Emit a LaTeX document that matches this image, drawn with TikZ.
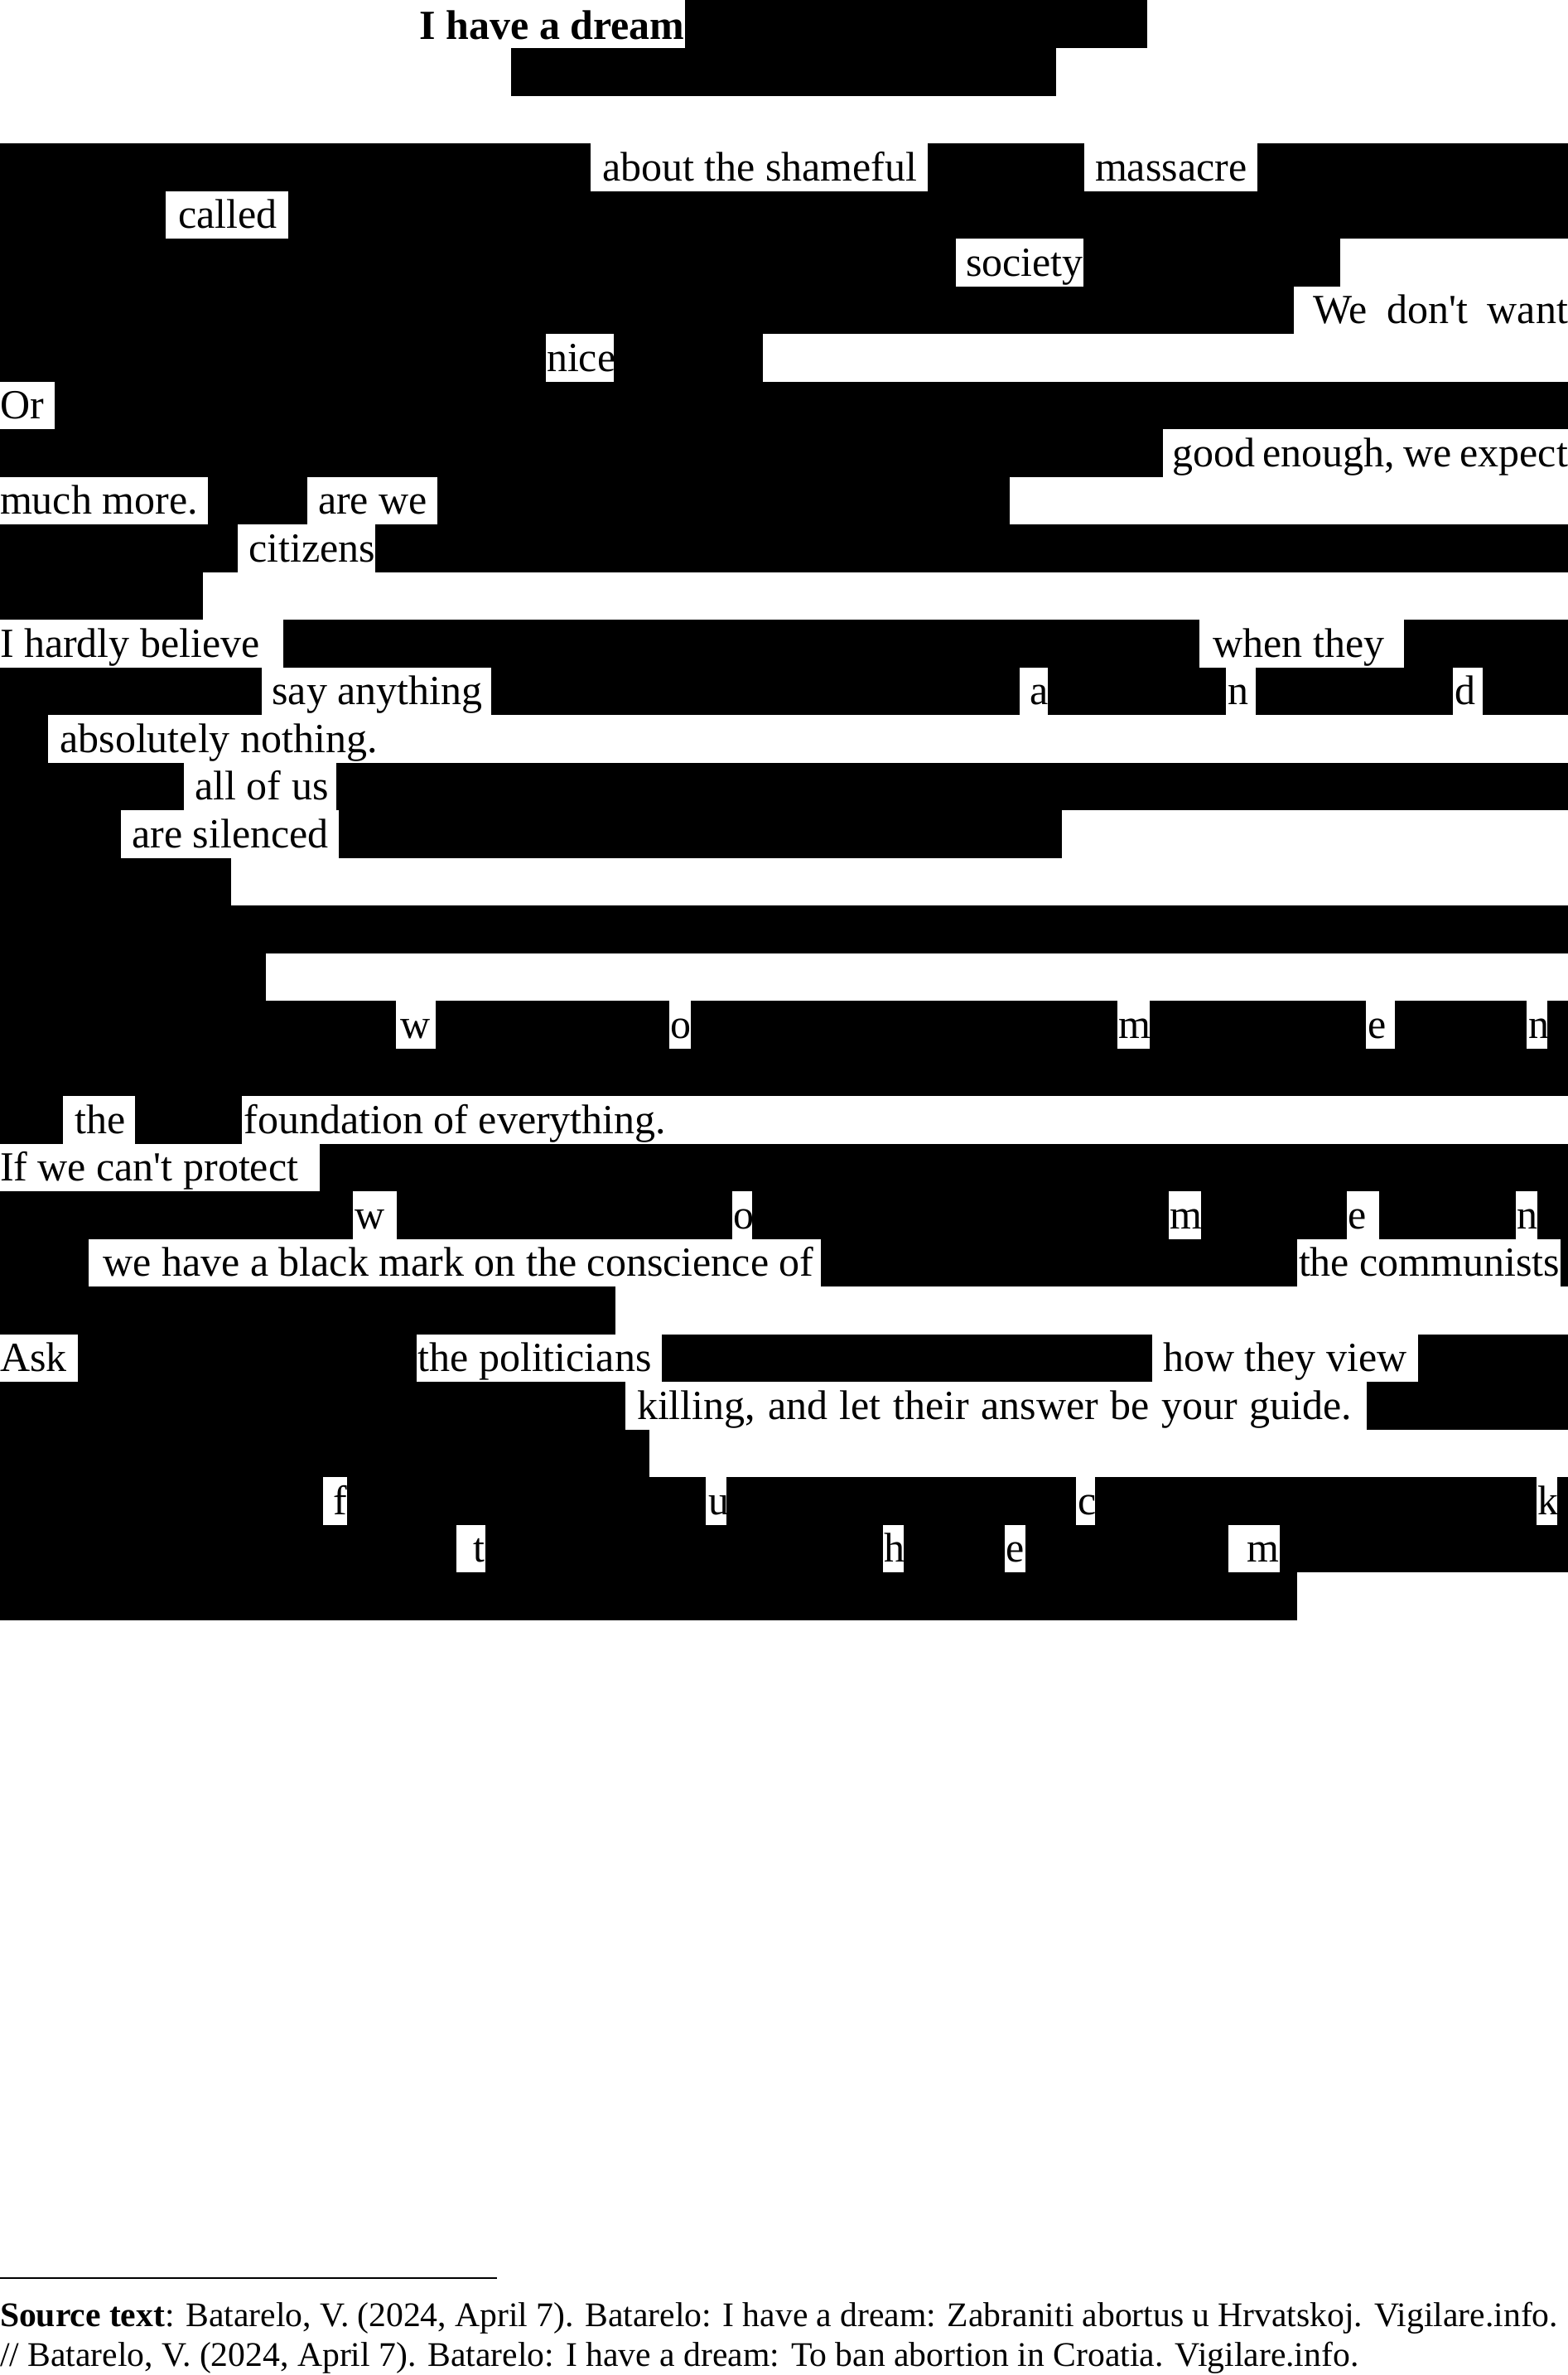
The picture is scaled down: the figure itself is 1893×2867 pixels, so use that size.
\documentclass[tikz,border=0pt]{standalone}
\usepackage{fontspec}
\setmainfont{Liberation Serif}[Ligatures=TeXOff]
\newcommand\BLK[3]{\fill[blackout] (#2,{173+57.5*(#1-1)}) rectangle (#3,{173+57.5*#1});}
\newcommand\TXT[4]{\node[wd] (#1) at (#3,{173+57.5*(#2-1)+45.3}) {#4};}
\tikzset{
  blackout/.style={fill=black},
  wd/.style={anchor=base west, inner sep=0pt, outer sep=0pt, font=\fontsize{12pt}{13.8pt}\selectfont},
  foot/.style={anchor=base west, inner sep=0pt, outer sep=0pt, font=\fontsize{10pt}{11.5pt}\selectfont}
}
\begin{document}
\begin{tikzpicture}[x=0.24pt,y=-0.24pt]
\useasboundingbox (0,0) rectangle (1893,2867);
% title
\node[wd, font=\fontsize{12pt}{13.8pt}\selectfont\bfseries] (title) at (506.7,47.5) {I have a dream};
\fill[blackout] (826.7,0) rectangle (1385,57.7);
\fill[blackout] (617.3,57.7) rectangle (1275,115.7);
% row 1
\BLK{1}{0}{713.3}\TXT{t1a}{1}{727}{about the shameful}
\BLK{1}{1120.4}{1308.7}\TXT{t1b}{1}{1322}{massacre}
\BLK{1}{1517.6}{1893}
% row 2
\BLK{2}{0}{200.4}\TXT{t2a}{2}{215}{called}\BLK{2}{347.7}{1893}
% row 3
\BLK{3}{0}{1154.2}\TXT{t3a}{3}{1166}{society}\BLK{3}{1307.5}{1617.8}
% row 4
\BLK{4}{0}{1562.2}\TXT{t4a}{4}{1585}{\makebox[73.92pt][s]{We don't want}}
% row 5
\BLK{5}{0}{659.2}\TXT{t5a}{5}{660}{nice}\BLK{5}{741.3}{921.2}
% row 6
\TXT{t6a}{6}{0}{Or}\BLK{6}{66.4}{1893}
% row 7
\BLK{7}{0}{1404.1}\TXT{t7a}{7}{1415}{\makebox[114.72pt][s]{good enough, we expect}}
% row 8
\TXT{t8a}{8}{0}{much more.}\BLK{8}{251.1}{370.6}\TXT{t8b}{8}{384}{are we}\BLK{8}{527.6}{1219.4}
% row 9
\BLK{9}{0}{287.3}\TXT{t9a}{9}{300.6}{citizens}\BLK{9}{452.7}{1893}
% row 10
\BLK{10}{0}{245.1}
% row 11
\TXT{t11a}{11}{0}{I hardly believe}\BLK{11}{341.7}{1447.5}\TXT{t11b}{11}{1464.5}{when they}\BLK{11}{1695}{1893}
% row 12
\BLK{12}{0}{316.3}\TXT{t12a}{12}{328.4}{say anything}\BLK{12}{592.8}{1231.4}
\TXT{t12b}{12}{1243.5}{a}\BLK{12}{1265.2}{1480.1}\TXT{t12c}{12}{1482.6}{n}
\BLK{12}{1516.4}{1754.2}\TXT{t12d}{12}{1756.6}{d}\BLK{12}{1790.4}{1893}
% row 13
\BLK{13}{0}{58}\TXT{t13a}{13}{72.4}{absolutely nothing.}
% row 14
\BLK{14}{0}{222.1}\TXT{t14a}{14}{235.4}{all of us}\BLK{14}{405.7}{1893}
% row 15
\BLK{15}{0}{146.1}\TXT{t15a}{15}{159.4}{are silenced}\BLK{15}{409.3}{1282.1}
% rows 16-18
\BLK{16}{0}{278.9}
\BLK{17}{0}{1893}
\BLK{18}{0}{321.1}
% row 19
\BLK{19}{0}{478.1}\TXT{t19a}{19}{483}{w}\BLK{19}{526.4}{807.7}\TXT{t19b}{19}{809}{o}
\BLK{19}{834.2}{1348.5}\TXT{t19c}{19}{1350}{m}\BLK{19}{1388.4}{1649.2}\TXT{t19d}{19}{1651.6}{e}
\BLK{19}{1684.2}{1843.4}\TXT{t19e}{19}{1845}{n}\BLK{19}{1868.2}{1893}
% row 20
\BLK{20}{0}{1893}
% row 21
\BLK{21}{0}{76.1}\TXT{t21a}{21}{90.5}{the}\BLK{21}{163}{292.2}\TXT{t21b}{21}{294.6}{foundation of everything.}
% row 22
\TXT{t22a}{22}{0}{If we can't protect}\BLK{22}{386.3}{1893}
% row 23
\BLK{23}{0}{426.2}\TXT{t23a}{23}{428.6}{w}\BLK{23}{479.3}{883.7}\TXT{t23b}{23}{885}{o}
\BLK{23}{907.9}{1411.3}\TXT{t23c}{23}{1412.5}{m}\BLK{23}{1450}{1626.2}\TXT{t23d}{23}{1627.5}{e}
\BLK{23}{1664.9}{1829.7}\TXT{t23e}{23}{1831}{n}\BLK{23}{1855.5}{1893}
% row 24
\BLK{24}{0}{107.4}\TXT{t24a}{24}{124.4}{we have a black mark on the conscience of}
\BLK{24}{991.2}{1565.9}\TXT{t24b}{24}{1568}{the communists}\BLK{24}{1884.3}{1893}
% row 25
\BLK{25}{0}{742.5}
% row 26
\TXT{t26a}{26}{0}{Ask}\BLK{26}{94.2}{503.4}\TXT{t26b}{26}{504.6}{the politicians}
\BLK{26}{799.2}{1390.8}\TXT{t26c}{26}{1404}{how they view}\BLK{26}{1712.4}{1893}
% row 27
\BLK{27}{0}{754.6}\TXT{t27a}{27}{769}{\makebox[207.12pt][s]{killing, and let their answer be your guide.}}\BLK{27}{1650.4}{1893}
% row 28
\BLK{28}{0}{783.5}
% row 29
\BLK{29}{0}{390}\TXT{t29a}{29}{402}{f}\BLK{29}{419}{852.4}\TXT{t29b}{29}{855}{u}
\BLK{29}{876.5}{1299}\TXT{t29c}{29}{1301.5}{c}\BLK{29}{1322}{1854.5}\TXT{t29d}{29}{1856}{k}\BLK{29}{1880}{1893}
% row 30
\BLK{30}{0}{550.5}\TXT{t30a}{30}{571}{t}\BLK{30}{585.5}{1066}\TXT{t30b}{30}{1067}{h}
\BLK{30}{1091.4}{1213.3}\TXT{t30c}{30}{1214.5}{e}\BLK{30}{1237.5}{1482.6}\TXT{t30d}{30}{1505}{m}\BLK{30}{1545.4}{1893}
% row 31
\BLK{31}{0}{1565.9}
% footnote
\coordinate (ruleA) at (0,2750);
\coordinate (ruleB) at (600,2750);
\draw[line width=0.7pt] (ruleA) -- (ruleB);
\node[foot] (src1) at (0,2808) {\makebox[451.44pt][s]{\textbf{Source text}: Batarelo, V. (2024, April 7). Batarelo: I have a dream: Zabraniti abortus u Hrvatskoj. Vigilare.info.}};
\node[foot] (src2) at (0,2856) {// Batarelo, V. (2024, April 7). Batarelo: I have a dream: To ban abortion in Croatia. Vigilare.info.};
\end{tikzpicture}
\end{document}
